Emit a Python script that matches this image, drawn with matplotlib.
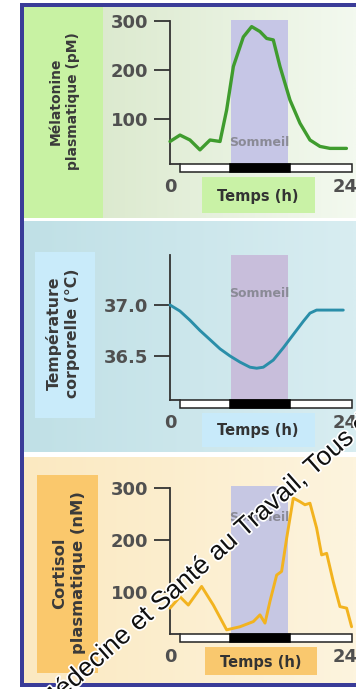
import numpy as np
import matplotlib
matplotlib.use("Agg")
import matplotlib.pyplot as plt
import matplotlib.transforms as mtransforms
import matplotlib.patheffects as pe
from matplotlib.patches import Rectangle
from matplotlib.colors import to_rgb

# ---------------- data ----------------
mel_hours = [0.0, 1.37, 2.74, 4.11, 5.49, 6.86, 7.77, 8.69, 10.06, 11.2, 12.34,
             13.26, 14.17, 15.09, 16.46, 17.83, 19.2, 20.57, 21.94, 24.2]
mel_values = [55, 68, 58, 38, 58, 55, 119, 207, 267, 288, 278,
              264, 261, 207, 139, 92, 58, 45, 41, 41]

temp_hours = [0.0, 1.37, 2.74, 4.11, 5.49, 6.86, 8.23, 9.6, 10.97, 11.89, 12.8,
              14.17, 15.54, 16.91, 18.29, 19.2, 20.11, 21.49, 23.77]
temp_values = [37.0, 36.94, 36.85, 36.75, 36.66, 36.57, 36.50, 36.44, 36.39, 36.38, 36.39,
               36.46, 36.58, 36.71, 36.84, 36.92, 36.95, 36.95, 36.95]

cort_hours = [0.0, 1.37, 2.51, 4.34, 5.94, 7.77, 9.6, 11.43, 12.34, 13.03, 13.71,
              14.63, 15.31, 16.0, 16.91, 17.83, 18.51, 19.2, 20.11, 20.8, 21.49,
              22.4, 23.31, 24.23, 24.91]
cort_values = [68, 90, 74, 110, 74, 26, 32, 42, 55, 39, 81,
               132, 139, 203, 281, 274, 268, 271, 223, 171, 174,
               119, 71, 68, 32]

sleep_start, sleep_end = 8.35, 16.2      # "Sommeil" shaded band (h)
night_start, night_end = 8.2, 16.45      # black part of the day/night bar (h)
bar_start, bar_end = 1.4, 24.9           # day/night bar extent (h)

mel_ticks = [100, 200, 300]
mel_ticklabels = ["100", "200", "300"]
temp_ticks = [37.0, 36.5]
temp_ticklabels = ["37.0", "36.5"]
cort_ticks = [100, 200, 300]
cort_ticklabels = ["100", "200", "300"]
x_ticks = [0, 24]
x_ticklabels = ["0", "24"]

mel_label = "Mélatonine\nplasmatique (pM)"
temp_label = "Température\ncorporelle (°C)"
cort_label = "Cortisol\nplasmatique (nM)"
time_label = "Temps (h)"
sleep_label = "Sommeil"
watermark = "Médecine et Santé au Travail, Tous droits réservés"

# ---------------- figure ----------------
W, H = 356, 689
fig = plt.figure(figsize=(W / 100, H / 100), dpi=100)
fig.patch.set_facecolor("white")
bg = fig.add_axes([0, 0, 1, 1])
bg.axis("off")


def rect(x0, y0, x1, y1, color, z=1):
    bg.add_patch(Rectangle((x0, y0), x1 - x0, y1 - y0, facecolor=color,
                           edgecolor="none", zorder=z))


def grad(x0, y0, x1, y1, c0, c1, z=0.5):
    c0 = np.array(to_rgb(c0))
    c1 = np.array(to_rgb(c1))
    t = np.linspace(0, 1, 64)[None, :, None]
    img = c0 + (c1 - c0) * t
    img = np.repeat(img, 2, axis=0)
    bg.imshow(img, extent=(x0, x1, y1, y0), aspect="auto", zorder=z,
              interpolation="bilinear")


# panel backgrounds
grad(24, 7, 356, 218, "#d5e5c5", "#f3f9ef")
grad(24, 221, 356, 452, "#c0e0e6", "#d8edf1")
grad(24, 457, 356, 683, "#fbe9c1", "#fdf4de")
# label boxes
rect(24, 7, 103, 218, "#c8f2a3")
rect(35, 252, 95, 418, "#c9ebfa")
rect(37, 475, 98, 673, "#fac86c")
# "Temps (h)" boxes
rect(202, 177, 315, 213, "#c9f2a6")
rect(202, 413, 315, 447, "#c8eafa")
rect(205, 647, 317, 675, "#f9c86e")
# navy frame
rect(20, 3, 24, 687, "#3a3c98", z=3)
rect(20, 3, 356, 7, "#3a3c98", z=3)
rect(20, 683, 356, 687, "#3a3c98", z=3)

bg.set_xlim(0, W)
bg.set_ylim(H, 0)

label_kw = dict(rotation=90, ha="center", va="center", fontweight="bold",
                color="#3a3a3a", family="DejaVu Sans", linespacing=1.3, zorder=4)
bg.text(64, 101, mel_label, fontsize=10, **label_kw)
bg.text(63, 333, temp_label, fontsize=11.3, **label_kw)
bg.text(69, 573, cort_label, fontsize=11.8, **label_kw)

time_kw = dict(ha="center", va="center", fontweight="bold", color="#333333",
               fontsize=10.5, family="DejaVu Sans", zorder=4)
bg.text(258, 197, time_label, **time_kw)
bg.text(258, 431, time_label, **time_kw)
bg.text(261, 663, time_label, **time_kw)

# ---------------- data axes ----------------
X0, PXH, XMAX = 170, 7.29, 25.5
BAR_PX = 8


def panel(top, bottom, ylim, spine_top, ticks, ticklabels, hours, values,
          color, lw, band_color, som_frac):
    ax = fig.add_axes([X0 / W, 1 - bottom / H, XMAX * PXH / W, (bottom - top) / H])
    ax.set_xlim(0, XMAX)
    ax.set_ylim(*ylim)
    ax.patch.set_alpha(0)
    frac = BAR_PX / (bottom - top)
    ybar = ylim[0] + frac * (ylim[1] - ylim[0])
    tr = mtransforms.blended_transform_factory(ax.transData, ax.transAxes)

    ax.axvspan(sleep_start, sleep_end, ymin=frac, ymax=1, color=band_color,
               lw=0, zorder=1)
    ax.text((sleep_start + sleep_end) / 2, som_frac, sleep_label, transform=tr,
            ha="center", va="center", fontsize=9, fontweight="bold",
            color="#8a8a96", zorder=2)
    ax.plot(hours, values, color=color, lw=lw, solid_joinstyle="round",
            solid_capstyle="round", zorder=3, clip_on=False)

    ax.add_patch(Rectangle((bar_start, 0), bar_end - bar_start, frac, transform=tr,
                           facecolor="white", edgecolor="#222222", lw=1.1,
                           zorder=4, clip_on=False))
    ax.add_patch(Rectangle((night_start, 0), night_end - night_start, frac,
                           transform=tr, facecolor="black", edgecolor="black",
                           lw=1.1, zorder=5, clip_on=False))
    ax.plot([0, bar_start], [frac, frac], transform=tr, color="#333333",
            lw=1.3, zorder=4, clip_on=False)

    for s in ["top", "right", "bottom"]:
        ax.spines[s].set_visible(False)
    ax.spines["left"].set_bounds(ybar, spine_top)
    ax.spines["left"].set_color("#333333")
    ax.spines["left"].set_linewidth(1.3)

    ax.set_yticks(ticks, ticklabels, fontweight="bold", family="DejaVu Sans")
    ax.tick_params(axis="y", length=11.5, width=1.3, color="#333333", pad=4,
                   labelsize=13, labelcolor="#505050")
    ax.set_xticks(x_ticks, x_ticklabels, fontweight="bold", family="DejaVu Sans")
    ax.tick_params(axis="x", length=0, pad=4.3, labelsize=13, labelcolor="#505050")
    return ax


panel(20, 172, (-6.9, 301.4), 300, mel_ticks, mel_ticklabels, mel_hours,
      mel_values, "#3f9c2e", 2.4, "#c6c6e6", 0.197)
panel(255, 408, (35.99, 37.49), 37.49, temp_ticks, temp_ticklabels, temp_hours,
      temp_values, "#2a8ea9", 2.1, "#c8bedb", 0.75)
panel(486, 642, (2.5, 304.3), 300, cort_ticks, cort_ticklabels, cort_hours,
      cort_values, "#f2b31f", 2.1, "#c6c7e3", 0.80)

# watermark on top
fig.text(47 / W, 1 - 713 / H, watermark, rotation=41.6, rotation_mode="anchor",
         ha="left", va="baseline", fontsize=19, family="Liberation Sans",
         color="#111111", zorder=10,
         path_effects=[pe.withStroke(linewidth=2.5, foreground="white")])

fig.savefig("out.png", dpi=100)
